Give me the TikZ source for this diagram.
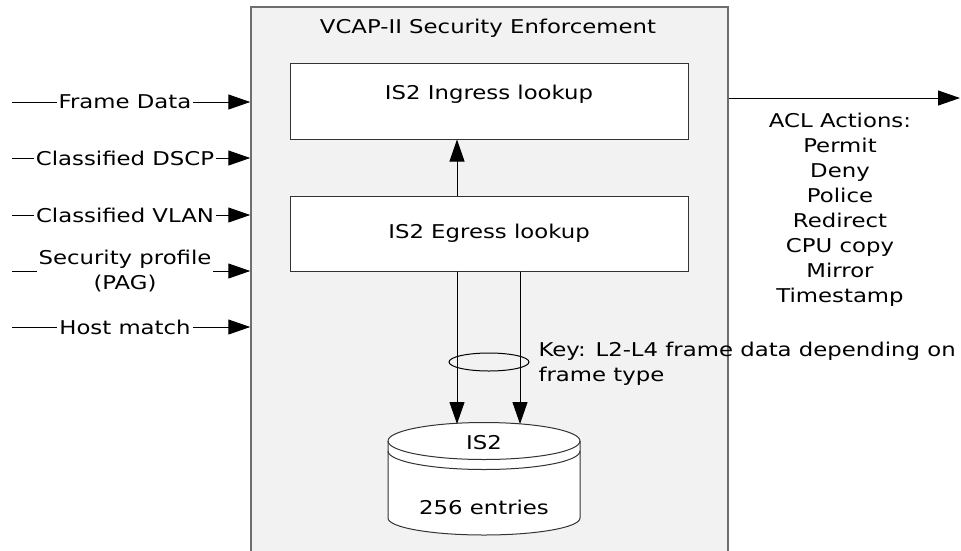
\documentclass[tikz,border=0pt]{standalone}
\usepackage{fontspec}
\setmainfont{DejaVu Sans}[FakeStretch=1.2]
\usepackage{xcolor}
\usetikzlibrary{arrows.meta,positioning,shapes.geometric,calc}
\definecolor{encfill}{HTML}{F2F2F2}
\definecolor{encedge}{HTML}{6E6E6E}
\begin{document}
\begin{tikzpicture}[x=1pt,y=-1pt,font=\fontsize{19}{25}\selectfont,
		lookup/.style={draw=black!80,fill=white,line width=1pt,minimum width=398pt,minimum height=76pt,inner sep=0pt},
		sig/.style={-{Triangle[length=22pt,width=15pt]},line width=1pt},
		siglabel/.style={fill=white,inner sep=2pt,align=center}]
		\useasboundingbox (0,0) rectangle (961,550);
		\node[draw=encedge,fill=encfill,line width=1.5pt,minimum width=477pt,minimum height=552pt,inner sep=0pt] (enf) at (489.5,283) {};
		\node (title) at (488,28) {VCAP-II Security Enforcement};
		\node[lookup] (ing) at (489,101) {};
		\node (ingtxt) at ([yshift=7pt]ing.center) {IS2 Ingress lookup};
		\node[lookup,minimum height=75pt] (egr) at (489,233.5) {IS2 Egress lookup};
		\draw[sig] ([xshift=-32pt]egr.north) -- ([xshift=-32pt]ing.south);
		% inputs
		\foreach \lbl/\yy/\nm in {Frame Data/102/fd,Classified DSCP/158/dscp,Classified VLAN/215/vlan,{Security profile\\(PAG)}/271/pag,Host match/327/host}{
			\coordinate (\nm-src) at (12,\yy);
			\draw[sig] (\nm-src) -- (\nm-src -| enf.west);
			\node[siglabel] (\nm) at (125,\yy) {\lbl};
		}
		% output
		\coordinate (acl-end) at (960,98);
		\draw[sig] (acl-end -| enf.east) -- (acl-end);
		\node[align=center] (acl) at (840,210) {ACL Actions:\\Permit\\Deny\\Police\\Redirect\\CPU copy\\Mirror\\Timestamp};
		% IS2 table
		\filldraw[fill=white,draw=black!80,line width=1pt] (388,441) -- (388,518) arc[start angle=180,end angle=0,x radius=96,y radius=17] -- (580,441) arc[start angle=0,end angle=-180,x radius=96,y radius=18.5] -- cycle;
		\draw[black!80,line width=1pt] (388,441) arc[start angle=180,end angle=0,x radius=96,y radius=18.5];
		\draw[black!80,line width=1pt] (388,451) arc[start angle=180,end angle=0,x radius=96,y radius=18.5];
		\node (dbname) at (484,443) {IS2};
		\node (dbsize) at (484,507) {256 entries};
		\coordinate (db-in1) at (457,424);
		\coordinate (db-in2) at (520,424);
		\draw[sig] ([xshift=-32pt]egr.south) -- (db-in1);
		\draw[sig] ([xshift=31pt]egr.south) -- (db-in2);
		\node[draw,ellipse,line width=1pt,minimum width=80pt,minimum height=18pt,inner sep=0pt] (keyring) at (489,362) {};
		\node[anchor=west,align=left] (keytxt) at (535,364) {Key: L2-L4 frame data depending on\\frame type};
	\end{tikzpicture}
\end{document}
